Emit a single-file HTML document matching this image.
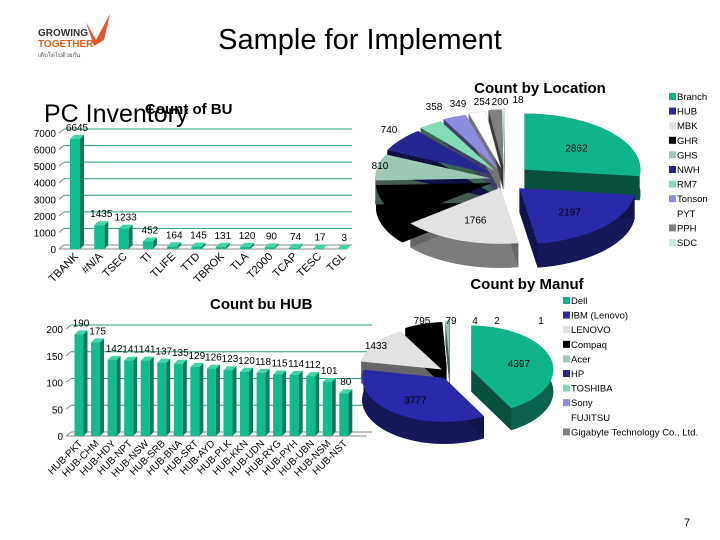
<!DOCTYPE html>
<html><head><meta charset="utf-8"><style>
body{margin:0;background:#fff;}
svg{display:block;font-family:"Liberation Sans",sans-serif;}
</style></head><body>
<svg id="s" width="720" height="540" viewBox="0 0 720 540" xmlns="http://www.w3.org/2000/svg">
<g>
<text x="38" y="36" font-size="10" font-weight="bold" fill="#333">GROWING</text>
<text x="38" y="47" font-size="10" font-weight="bold" fill="#e0601a">TOGETHER</text>
<text x="38" y="57" font-size="6" fill="#555">เติบโตไปด้วยกัน</text>
<path d="M86 22 L96 40 L110 14 L104 40 L94 46 Z" fill="#e5542a"/>
</g>
<text x="360" y="49" font-size="29" text-anchor="middle" fill="#000">Sample for Implement</text>
<text x="44" y="122" font-size="25" fill="#000">PC Inventory</text>
<text x="145" y="114" font-size="15" font-weight="bold" fill="#000">Count of BU</text>
<text x="210" y="309" font-size="15" font-weight="bold" fill="#000">Count bu HUB</text>
<text x="540" y="93" font-size="15" font-weight="bold" text-anchor="middle" fill="#000">Count by Location</text>
<text x="527" y="289" font-size="15" font-weight="bold" text-anchor="middle" fill="#000">Count by Manuf</text>
<text x="684" y="526" font-size="11" fill="#000">7</text>
<g id="bu"></g><g id="hub"></g><g id="loc"></g><g id="man"></g>
</svg>
<script>
const buCats=["TBANK","#N/A","TSEC","TI","TLIFE","TTD","TBROK","TLA","T2000","TCAP","TESC","TGL"];
const buVals=[6645,1435,1233,452,164,145,131,120,90,74,17,3];
const buTicks=[0,1000,2000,3000,4000,5000,6000,7000];
const hubCats=["HUB-PKT","HUB-CHM","HUB-HDY","HUB-NPT","HUB-NSW","HUB-SRB","HUB-BNA","HUB-SRT","HUB-AYD","HUB-PLK","HUB-KKN","HUB-UDN","HUB-RYG","HUB-PYH","HUB-UBN","HUB-NSM","HUB-NST"];
const hubVals=[190,175,142,141,141,137,135,129,126,123,120,118,115,114,112,101,80];
const hubTicks=[0,50,100,150,200];
const locCats=["Branch","HUB","MBK","GHR","GHS","NWH","RM7","Tonson","PYT","PPH","SDC"];
const locVals=[2862,2197,1766,1100,810,740,358,349,254,200,18];
const locLabels=["2862","2197","1766","","810","740","358","349","254","200","18"];
const manCats=["Dell","IBM (Lenovo)","LENOVO","Compaq","Acer","HP","TOSHIBA","Sony","FUJITSU","Gigabyte Technology Co., Ltd."];
const manVals=[4397,3777,1433,795,79,4,2,1,0,0];
const manLabels=["4397","3777","1433","795","79","4","2","1","",""];
const NS="http://www.w3.org/2000/svg";
function mk(p,t,a){const e=document.createElementNS(NS,t);for(const k in a)e.setAttribute(k,a[k]);p.appendChild(e);return e;}
function barChart(gid,cats,vals,ticks,o){
 const g=document.getElementById(gid);
 const ys=v=>o.y0-(v/o.max)*(o.y0-o.y1);
 const xs=i=>o.x0+i*o.step;
 for(const t of ticks){
  const gl=mk(g,'line',{x1:o.ax,y1:ys(t),x2:o.ax+5,y2:ys(t)-4,stroke:'#888'});
  
  const l=mk(g,'line',{x1:o.ax+5,y1:ys(t)-4,x2:o.xe,y2:ys(t)-4,stroke:t==0?'#888':'#2a9a80','stroke-width':1});
  
  const tx=mk(g,'text',{x:o.ax-3,y:ys(t)+4,'font-size':10,'text-anchor':'end'});tx.textContent=t;
  
 }
 const ax=mk(g,'line',{x1:o.ax,y1:o.y0,x2:o.xe-5,y2:o.y0,stroke:'#888'});
 
 cats.forEach((c,i)=>{
  const cx=xs(i),w=o.bw,d=4,top=ys(vals[i]),bx=cx-w/2;
  const side=mk(g,'path',{d:`M${bx+w} ${o.y0} L${bx+w+d} ${o.y0-d} L${bx+w+d} ${top-d} L${bx+w} ${top} Z`,fill:'#0a7a5c'});
  
  const tp=mk(g,'path',{d:`M${bx} ${top} L${bx+d} ${top-d} L${bx+w+d} ${top-d} L${bx+w} ${top} Z`,fill:'#40d4a8'});
  
  const r=mk(g,'rect',{x:bx,y:top,width:w,height:o.y0-top,fill:'#10bb8e'});
  
  const vl=mk(g,'text',{x:cx+2,y:top-o.lo,'font-size':10,'text-anchor':'middle'});vl.textContent=vals[i];
  
  const cl=mk(g,'text',{x:cx+4,y:o.y0+8,'font-size':o.fs,'text-anchor':'end',transform:`rotate(-45 ${cx+4} ${o.y0+8})`});cl.textContent=c;
  
 });
}
barChart('bu',buCats,buVals,buTicks,{x0:75,step:24.3,bw:10,y0:249,y1:133,max:7000,ax:59,xe:352,lo:8,fs:11});
barChart('hub',hubCats,hubVals,hubTicks,{x0:79,step:16.55,bw:9,y0:436,y1:329,max:200,ax:66,xe:372,lo:8,fs:10});
function shade(c,f){const n=parseInt(c.slice(1),16);let r=n>>16,g=(n>>8)&255,b=n&255;return `rgb(${Math.round(r*f)},${Math.round(g*f)},${Math.round(b*f)})`;}
function pie(gid,vals,labels,cols,o){
 const g=document.getElementById(gid);
 const tot=vals.reduce((a,b)=>a+b,0);
 let a=0;const sl=[];
 vals.forEach((v,i)=>{const s=a,e=a+v/tot*2*Math.PI;a=e;sl.push([s,e]);});
 const pt=(cx,cy,t,k)=>[cx+o.rx*k*Math.sin(t),cy-o.ry*k*Math.cos(t)];
 const geo=sl.map(([s,e],i)=>{const m=(s+e)/2;const ex=o.ex[i]||0;return {s,e,cx:o.cx+ex*Math.sin(m),cy:o.cy-ex*0.6*Math.cos(m)};});
 const path=(G,dy)=>{let p=`M${G.cx} ${G.cy+dy}`;const n=Math.max(2,Math.ceil((G.e-G.s)*20));for(let j=0;j<=n;j++){const t=G.s+(G.e-G.s)*j/n;const q=pt(G.cx,G.cy+dy,t,1);p+=` L${q[0].toFixed(1)} ${q[1].toFixed(1)}`;}return p+' Z';};
 geo.forEach((G,i)=>{if(vals[i]<=0)return;
  const b=mk(g,'path',{d:path(G,o.d),fill:shade(cols[i],0.55)});
  
  let p='';const n=40;
  for(let j=0;j<=n;j++){const t=G.s+(G.e-G.s)*j/n;const q=pt(G.cx,G.cy,t,1);p+=(j?' L':'M')+q[0].toFixed(1)+' '+q[1].toFixed(1);}
  for(let j=n;j>=0;j--){const t=G.s+(G.e-G.s)*j/n;const q=pt(G.cx,G.cy+o.d,t,1);p+=' L'+q[0].toFixed(1)+' '+q[1].toFixed(1);}
  const w=mk(g,'path',{d:p+' Z',fill:shade(cols[i],0.55)});
  
  [G.s,G.e].forEach(t=>{const q=pt(G.cx,G.cy,t,1);const f=mk(g,'path',{d:`M${G.cx} ${G.cy} L${q[0]} ${q[1]} L${q[0]} ${q[1]+o.d} L${G.cx} ${G.cy+o.d} Z`,fill:shade(cols[i],0.45)});
   });
 });
 geo.forEach((G,i)=>{if(vals[i]<=0)return;
  const t=mk(g,'path',{d:path(G,0),fill:cols[i],stroke:cols[i]=='#ffffff'?'#ddd':'none','stroke-width':0.5});
  
 });
 geo.forEach((G,i)=>{if(!labels[i])return;const m=(G.s+G.e)/2;
  let q;if(i<o.inside)q=pt(G.cx,G.cy,m,0.6);
  else if(o.fix[i])q=o.fix[i];
  else q=pt(G.cx,G.cy,m,1.12);
  const tx=mk(g,'text',{x:q[0],y:q[1]+4,'font-size':10,'text-anchor':'middle'});tx.textContent=labels[i];
  
 });
}
const locCols=["#10b48a","#2a2aa8","#e2e2e2","#000000","#9cc8b4","#262690","#82dcb8","#8c8ce0","#ffffff","#808080","#c6eede"];
const locLabelPos={4:[380,165],5:[389,129],6:[434,106],7:[458,103],8:[482,101],9:[500,101],10:[518,99]};
pie('loc',locVals,locLabels,locCols,{cx:505,cy:180,rx:116,ry:56,d:24,ex:[26,20,14,14,14,16,18,20,22,24,26],inside:4,fix:locLabelPos});
const manCols=["#10b48a","#2a2aa8","#e2e2e2","#000000","#9cc8b4","#262690","#82dcb8","#8c8ce0","#ffffff","#808080"];
const manLabelPos={2:[376,345],3:[422,320],4:[451,320],5:[475,320],6:[497,320],7:[541,320]};
pie('man',manVals,manLabels,manCols,{cx:450,cy:373,rx:82,ry:44,d:22,ex:[22,10,10,12,14,16,18,20,0,0],inside:2,fix:manLabelPos});
function legend(x,y,step,cats,cols,fs){
 const g=document.getElementById('s');
 cats.forEach((c,i)=>{
  if(cols[i]!='#ffffff'){const r=mk(g,'rect',{x:x,y:y+i*step-7,width:7,height:7,fill:cols[i]});
  }
  const t=mk(g,'text',{x:x+8,y:y+i*step,'font-size':fs});t.textContent=c;
  
 });
}
legend(669,100,14.6,locCats,locCols,9.5);
legend(563,304,14.6,manCats,manCols,9.5);
</script>
</body></html>
